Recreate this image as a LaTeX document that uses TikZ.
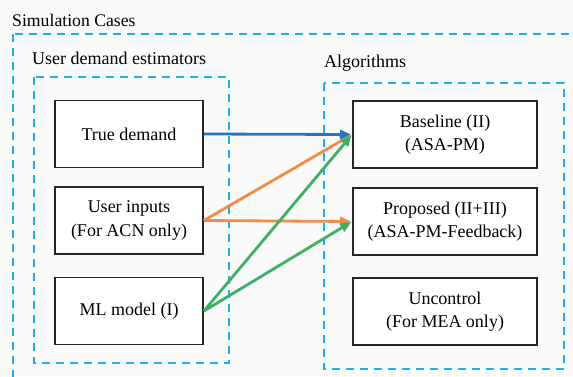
\documentclass[tikz,border=0pt]{standalone}
\usepackage{fontspec}
\setmainfont{Liberation Serif}
\usetikzlibrary{arrows.meta}
\definecolor{dashcyan}{HTML}{1AB2EC}
\definecolor{arrblue}{HTML}{1F78C8}
\definecolor{arrorange}{HTML}{F28C45}
\definecolor{arrgreen}{HTML}{3CB063}
\tikzset{
  groupbox/.style={draw=dashcyan, line width=2.2pt, dash pattern=on 8pt off 6pt},
  itembox/.style={draw=black!85, line width=1.8pt, fill=white, minimum width=148pt, minimum height=67pt, align=center, inner sep=0pt, font=\fontsize{18}{23.5}\selectfont},
  ritembox/.style={itembox, minimum width=184pt},
  lbl/.style={anchor=west, inner sep=0pt, font=\fontsize{18}{21}\selectfont},
  conn/.style={line width=2.8pt, -{Triangle[length=11pt,width=9pt]}, shorten >=1pt}
}
\begin{document}
\begin{tikzpicture}[x=1pt,y=-1pt]
\useasboundingbox (0,0) rectangle (573,376);
\fill[white!98!black] (0,0) rectangle (573,376);
% outer group (clipped at right and bottom)
\begin{scope}
\clip (0,0) rectangle (573,376);
\draw[groupbox] (13,34) rectangle (590,400);
\end{scope}
\node[lbl, font=\fontsize{17.7}{21}\selectfont] (tsim) at (12,20) {Simulation Cases};
\node[lbl] (tude) at (32,58) {User demand estimators};
\node[lbl] (talg) at (324,63) {Algorithms};
\draw[groupbox] (34,77) rectangle (229,363);
\draw[groupbox] (324,83) rectangle (564,369);
% left boxes
\node[itembox] (true) at (129,134) {True demand};
\node[itembox] (user) at (129,220.5) {User inputs\\(For ACN only)};
\node[itembox] (ml) at (129,311) {ML model (I)};
% right boxes
\node[ritembox] (base) at (445,134.5) {Baseline (II)\\(ASA-PM)};
\node[ritembox] (prop) at (445,221.5) {Proposed (II+III)\\(ASA-PM-Feedback)};
\node[ritembox] (unc) at (445,311.5) {Uncontrol\\(For MEA only)};
% connectors
\draw[conn, arrorange] (user.east) -- (base.west);
\draw[conn, arrorange] (user.east) -- (prop.west);
\draw[conn, arrgreen] (ml.east) -- (prop.west);
\draw[conn, arrgreen] (ml.east) -- (base.west);
\draw[conn, arrblue] (true.east) -- (base.west);
\end{tikzpicture}
\end{document}
